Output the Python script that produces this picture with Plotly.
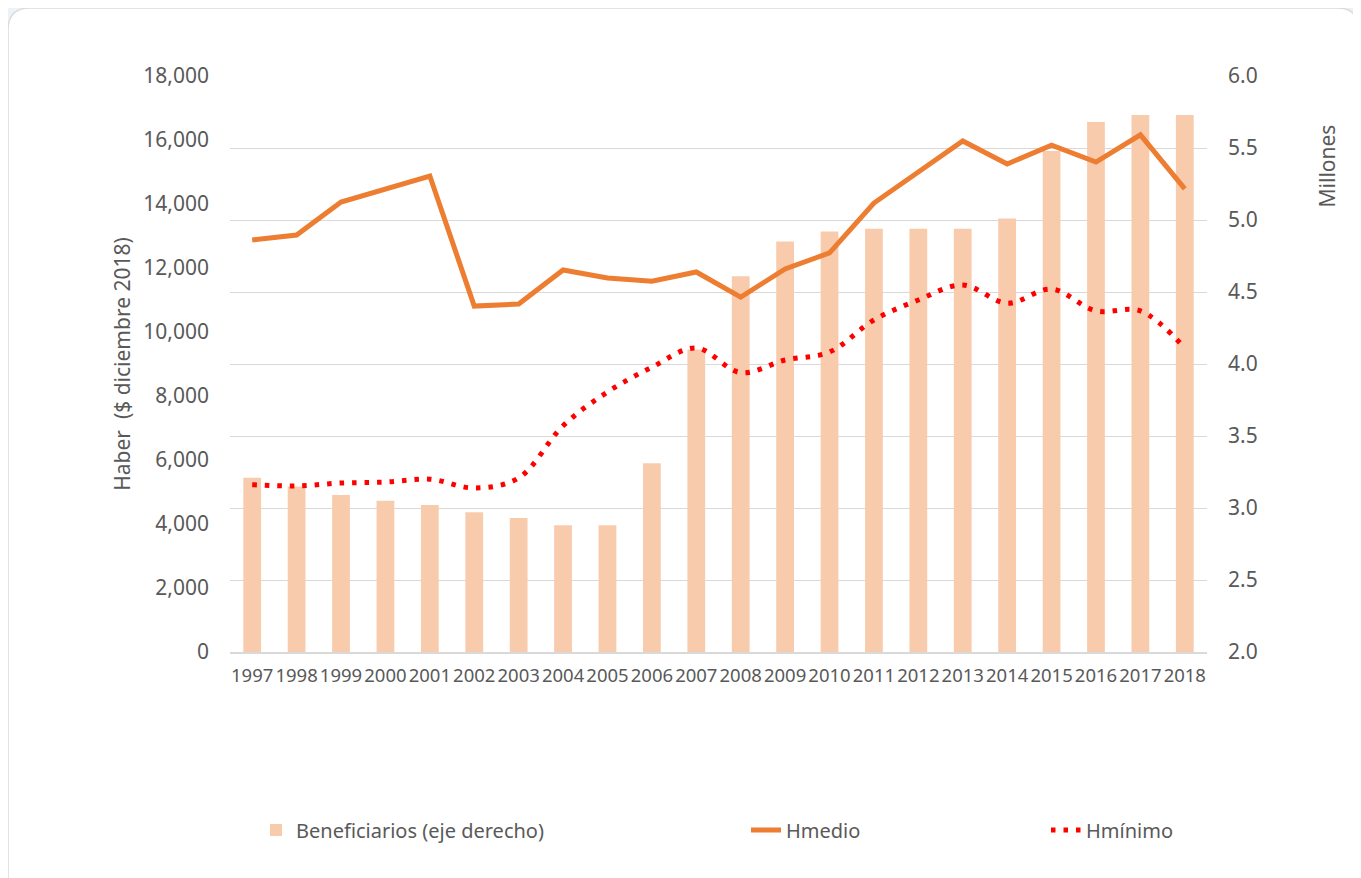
import plotly.graph_objects as go

years = [str(y) for y in range(1997, 2019)]
beneficiarios = [3.21, 3.15, 3.09, 3.05, 3.02, 2.97, 2.93, 2.88, 2.88, 3.31, 4.10,
                 4.61, 4.85, 4.92, 4.94, 4.94, 4.94, 5.01, 5.48, 5.68, 5.73, 5.73]
hmedio = [12875, 13030, 14060, 14470, 14875, 10810, 10875, 11940, 11690, 11590, 11875,
          11090, 11970, 12470, 14030, 15000, 15970, 15250, 15840, 15310, 16160, 14470]
hminimo = [5230, 5190, 5280, 5310, 5400, 5125, 5440, 7070, 8125, 8900, 9500,
           8730, 9125, 9375, 10375, 11000, 11470, 10900, 11340, 10660, 10660, 9500]
left_ticks = list(range(0, 18001, 2000))
right_ticks = [2.0, 2.5, 3.0, 3.5, 4.0, 4.5, 5.0, 5.5, 6.0]

OFF = 8  # page body margin
W, H = 1361 - OFF, 878 - OFF
L, R, T, B = 230, 1207, 76, 652  # plot area in screen pixels
FONT = "Noto Sans"
GREY = "#595959"

def px(x):
    return (x - L) / (R - L)

def py(y):
    return (B - y) / (B - T)

fig = go.Figure()
fig.add_trace(go.Bar(x=years, y=beneficiarios, name="Beneficiarios (eje derecho)",
                     marker=dict(color="#F8CBAD", line=dict(width=0)), width=0.4,
                     yaxis="y", legend="legend", showlegend=True))
fig.add_trace(go.Scatter(x=years, y=hmedio, name="Hmedio", mode="lines",
                         line=dict(color="#ED7D31", width=5), yaxis="y2",
                         legend="legend2", showlegend=True))
fig.add_trace(go.Scatter(x=years, y=hminimo, name="Hmínimo", mode="lines",
                         line=dict(color="#FF0000", width=5, dash="4.5px,8px",
                                   shape="spline", smoothing=1),
                         yaxis="y2", legend="legend3", showlegend=True))

# rounded card background
x0, y0, x1, y1, r = 8, 8, 1359, 900, 22
path = (f"M {px(x0)},{py(y0 + r)} Q {px(x0)},{py(y0)} {px(x0 + r)},{py(y0)} "
        f"L {px(x1 - r)},{py(y0)} Q {px(x1)},{py(y0)} {px(x1)},{py(y0 + r)} "
        f"L {px(x1)},{py(y1)} L {px(x0)},{py(y1)} Z")

leg = dict(yanchor="middle", xanchor="left", orientation="h",
           bgcolor="rgba(0,0,0,0)", font=dict(size=20, color=GREY, family=FONT))

fig.update_layout(
    width=W, height=H,
    margin=dict(l=L - OFF, r=(W + OFF) - R, t=T - OFF, b=(H + OFF) - B, pad=0),
    paper_bgcolor="#EEF2F5", plot_bgcolor="rgba(0,0,0,0)",
    font=dict(family=FONT, size=20, color=GREY),
    showlegend=True,
    shapes=[dict(type="path", path=path, xref="paper", yref="paper",
                 fillcolor="white", line=dict(color="#D8DCDF", width=1.5), layer="below")],
    xaxis=dict(type="category", showgrid=False, showline=True, linecolor="#D9D9D9",
               linewidth=1.5, tickangle=0, ticks="", tickfont=dict(size=18.5, color=GREY),
               ticklabelstandoff=6),
    yaxis=dict(side="right", range=[2, 6], tickvals=right_ticks, tickformat=".1f",
               showgrid=True, gridcolor="#D9D9D9", gridwidth=1.3, zeroline=False,
               ticks="", ticklabelstandoff=20, tickfont=dict(size=21, color=GREY)),
    yaxis2=dict(side="left", overlaying="y", range=[0, 18000], tickvals=left_ticks,
                tickformat=",", showgrid=False, zeroline=False, ticks="",
                ticklabelstandoff=20, tickfont=dict(size=21, color=GREY),
                title=dict(text="Haber  ($ diciembre 2018)", standoff=6,
                           font=dict(size=21, color=GREY))),
    bargap=0.6,
    legend=dict(x=px(256), y=py(830), **leg),
    legend2=dict(x=px(746), y=py(830), **leg),
    legend3=dict(x=px(1046), y=py(830), **leg),
    annotations=[dict(text="Millones", textangle=-90, x=px(1342), y=py(123),
                      xref="paper", yref="paper", showarrow=False,
                      font=dict(size=21, color=GREY))],
)

fig.write_html("out.html")
